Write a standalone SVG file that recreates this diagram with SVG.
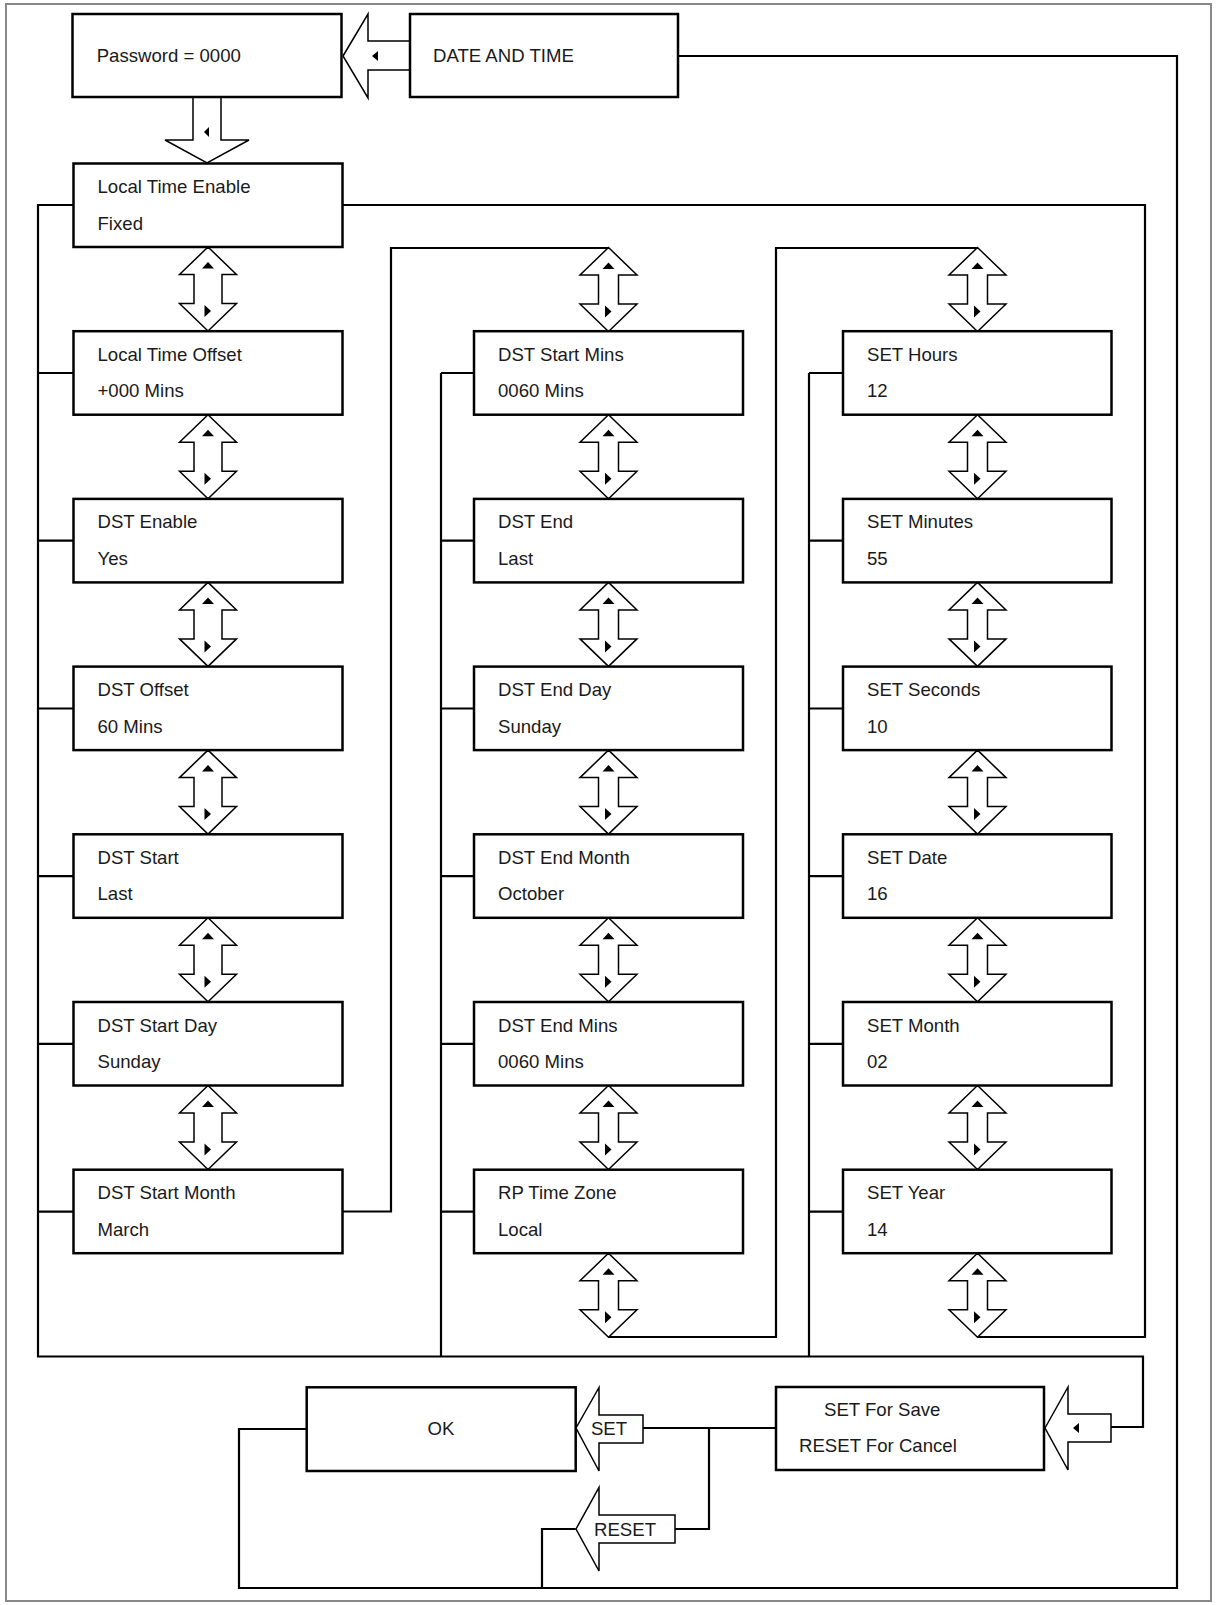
<svg xmlns="http://www.w3.org/2000/svg" width="1219" height="1605" viewBox="0 0 1219 1605">
<style>
.box{fill:#fff;stroke:#000;stroke-width:2.5}
.ln{fill:none;stroke:#000;stroke-width:2.2}
.arr{fill:#fff;stroke:#000;stroke-width:1.5}
.tri{fill:#000;stroke:none}
.t{font-family:"Liberation Sans",Arial,sans-serif;font-size:18.6px;fill:#1a1a1a}
.tm{font-family:"Liberation Sans",Arial,sans-serif;font-size:18.6px;fill:#1a1a1a;text-anchor:middle}
</style>
<defs>
<g id="dA">
<path class="arr" d="M0,0 L28.5,27.5 L10,27.5 L10,56.5 L28.5,56.5 L0,84 L-28.5,56.5 L-10,56.5 L-10,27.5 L-28.5,27.5 Z"/>
<path class="tri" d="M0,15 L6,21.5 L-6,21.5 Z"/>
<path class="tri" d="M-3.5,58 L3,64 L-3.5,70 Z"/>
</g>
<g id="dW">
<path class="arr" d="M0,0 L28.5,27.5 L14,27.5 L14,56.5 L28.5,56.5 L0,84 L-28.5,56.5 L-14,56.5 L-14,27.5 L-28.5,27.5 Z"/>
<path class="tri" d="M0,15 L6,21.5 L-6,21.5 Z"/>
<path class="tri" d="M-3.5,58 L3,64 L-3.5,70 Z"/>
</g>
</defs>
<rect x="0" y="0" width="1219" height="1605" fill="#fff"/>
<rect x="6" y="4" width="1205" height="1597" fill="none" stroke="#888" stroke-width="2"/>

<g id="connectors">
<path class="ln" d="M678,56 H1177 V1588 H239 V1429 H306.7"/>
<path class="ln" d="M575.7,1529 H542 V1588"/>
<path class="ln" d="M643,1428 H776 M709,1428 V1529 H675"/>
<path class="ln" d="M342.5,1211.5 H391 V248 H608.5"/>
<path class="ln" d="M608.5,1337 H776 V248 H977.5"/>
<path class="ln" d="M977.5,1337 H1145 V205 H342.5"/>
<path class="ln" d="M73.5,205 H38 V1356.5 H1143 V1427 H1111"/>
<path class="ln" d="M38,373 H73.5 M38,540.7 H73.5 M38,708.5 H73.5 M38,876.2 H73.5 M38,1043.9 H73.5 M38,1211.6 H73.5"/>
<path class="ln" d="M441,373 V1356.5 M441,373 H474 M441,540.7 H474 M441,708.5 H474 M441,876.2 H474 M441,1043.9 H474 M441,1211.6 H474"/>
<path class="ln" d="M809,373 V1356.5 M809,373 H843 M809,540.7 H843 M809,708.5 H843 M809,876.2 H843 M809,1043.9 H843 M809,1211.6 H843"/>

<path class="arr" d="M343,56 L368,14 L368,41 L410,41 L410,70 L368,70 L368,98 Z"/>
<path class="tri" d="M372,56 L378,51 L378,61 Z"/>
<path class="arr" d="M193,97 L193,140 L165,140 L207,163 L249,140 L221,140 L221,97 Z"/>
<path class="tri" d="M204,132 L209,127 L209,137 Z"/>

<path class="arr" d="M576,1428 L599,1387.5 L599,1415 L643,1415 L643,1443 L599,1443 L599,1471 Z"/>
<text class="tm" x="609" y="1435">SET</text>
<path class="arr" d="M576,1529 L599,1487.5 L599,1515 L675,1515 L675,1543 L599,1543 L599,1571 Z"/>
<text class="tm" x="625" y="1536">RESET</text>
<path class="arr" d="M1045,1428 L1068,1387 L1068,1414 L1111,1414 L1111,1442 L1068,1442 L1068,1470 Z"/>
<path class="tri" d="M1073,1428 L1079,1423 L1079,1433 Z"/>

<use href="#dW" x="208" y="247"/>
<use href="#dW" x="208" y="414.7"/>
<use href="#dW" x="208" y="582.4"/>
<use href="#dW" x="208" y="750.1"/>
<use href="#dW" x="208" y="917.8"/>
<use href="#dW" x="208" y="1085.5"/>

<use href="#dA" x="608.5" y="247.5"/>
<use href="#dA" x="608.5" y="414.7"/>
<use href="#dA" x="608.5" y="582.4"/>
<use href="#dA" x="608.5" y="750.1"/>
<use href="#dA" x="608.5" y="917.8"/>
<use href="#dA" x="608.5" y="1085.5"/>
<use href="#dA" x="608.5" y="1253.2"/>

<use href="#dA" x="977.5" y="247.5"/>
<use href="#dA" x="977.5" y="414.7"/>
<use href="#dA" x="977.5" y="582.4"/>
<use href="#dA" x="977.5" y="750.1"/>
<use href="#dA" x="977.5" y="917.8"/>
<use href="#dA" x="977.5" y="1085.5"/>
<use href="#dA" x="977.5" y="1253.2"/>
</g>

<g id="n-password"><rect class="box" x="72.5" y="14" width="269" height="83"/><text class="t" x="96.7" y="62">Password = 0000</text></g>
<g id="n-datetime"><rect class="box" x="410" y="14" width="268" height="83"/><text class="t" x="433" y="62">DATE AND TIME</text></g>

<g id="n-lte"><rect class="box" x="73.5" y="163.5" width="269" height="83.5"/><text class="t" x="97.5" y="193">Local Time Enable</text><text class="t" x="97.5" y="229.5">Fixed</text></g>
<g id="n-lto"><rect class="box" x="73.5" y="331.2" width="269" height="83.5"/><text class="t" x="97.5" y="360.7">Local Time Offset</text><text class="t" x="97.5" y="397.2">+000 Mins</text></g>
<g id="n-dste"><rect class="box" x="73.5" y="498.9" width="269" height="83.5"/><text class="t" x="97.5" y="528.4">DST Enable</text><text class="t" x="97.5" y="564.9">Yes</text></g>
<g id="n-dsto"><rect class="box" x="73.5" y="666.6" width="269" height="83.5"/><text class="t" x="97.5" y="696.1">DST Offset</text><text class="t" x="97.5" y="732.6">60 Mins</text></g>
<g id="n-dsts"><rect class="box" x="73.5" y="834.3" width="269" height="83.5"/><text class="t" x="97.5" y="863.8">DST Start</text><text class="t" x="97.5" y="900.3">Last</text></g>
<g id="n-dstsd"><rect class="box" x="73.5" y="1002" width="269" height="83.5"/><text class="t" x="97.5" y="1031.5">DST Start Day</text><text class="t" x="97.5" y="1068">Sunday</text></g>
<g id="n-dstsm"><rect class="box" x="73.5" y="1169.7" width="269" height="83.5"/><text class="t" x="97.5" y="1199.2">DST Start Month</text><text class="t" x="97.5" y="1235.7">March</text></g>

<g id="n-dstsmin"><rect class="box" x="474" y="331.2" width="269" height="83.5"/><text class="t" x="498" y="360.7">DST Start Mins</text><text class="t" x="498" y="397.2">0060 Mins</text></g>
<g id="n-dstend"><rect class="box" x="474" y="498.9" width="269" height="83.5"/><text class="t" x="498" y="528.4">DST End</text><text class="t" x="498" y="564.9">Last</text></g>
<g id="n-dstendd"><rect class="box" x="474" y="666.6" width="269" height="83.5"/><text class="t" x="498" y="696.1">DST End Day</text><text class="t" x="498" y="732.6">Sunday</text></g>
<g id="n-dstendm"><rect class="box" x="474" y="834.3" width="269" height="83.5"/><text class="t" x="498" y="863.8">DST End Month</text><text class="t" x="498" y="900.3">October</text></g>
<g id="n-dstendmin"><rect class="box" x="474" y="1002" width="269" height="83.5"/><text class="t" x="498" y="1031.5">DST End Mins</text><text class="t" x="498" y="1068">0060 Mins</text></g>
<g id="n-rptz"><rect class="box" x="474" y="1169.7" width="269" height="83.5"/><text class="t" x="498" y="1199.2">RP Time Zone</text><text class="t" x="498" y="1235.7">Local</text></g>

<g id="n-hours"><rect class="box" x="843" y="331.2" width="268.5" height="83.5"/><text class="t" x="867" y="360.7">SET Hours</text><text class="t" x="867" y="397.2">12</text></g>
<g id="n-minutes"><rect class="box" x="843" y="498.9" width="268.5" height="83.5"/><text class="t" x="867" y="528.4">SET Minutes</text><text class="t" x="867" y="564.9">55</text></g>
<g id="n-seconds"><rect class="box" x="843" y="666.6" width="268.5" height="83.5"/><text class="t" x="867" y="696.1">SET Seconds</text><text class="t" x="867" y="732.6">10</text></g>
<g id="n-date"><rect class="box" x="843" y="834.3" width="268.5" height="83.5"/><text class="t" x="867" y="863.8">SET Date</text><text class="t" x="867" y="900.3">16</text></g>
<g id="n-month"><rect class="box" x="843" y="1002" width="268.5" height="83.5"/><text class="t" x="867" y="1031.5">SET Month</text><text class="t" x="867" y="1068">02</text></g>
<g id="n-year"><rect class="box" x="843" y="1169.7" width="268.5" height="83.5"/><text class="t" x="867" y="1199.2">SET Year</text><text class="t" x="867" y="1235.7">14</text></g>

<g id="n-ok"><rect class="box" x="306.7" y="1387.3" width="269" height="83.7"/><text class="tm" x="441" y="1435">OK</text></g>
<g id="n-save"><rect class="box" x="776" y="1387" width="268" height="83"/><text class="t" x="824" y="1416">SET For Save</text><text class="t" x="799" y="1452">RESET For Cancel</text></g>
</svg>
